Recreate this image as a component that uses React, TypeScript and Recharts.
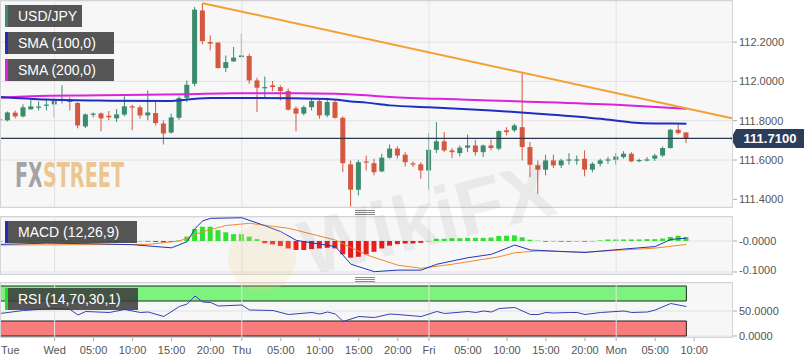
import React from 'react'
import {
  ComposedChart, Bar, Line, XAxis, YAxis, CartesianGrid,
  ReferenceLine, ReferenceArea, Cell,
} from 'recharts'

const FONT = '"Liberation Sans", Arial, sans-serif'
const UP = '#3b8b6c'
const DOWN = '#d4573f'
const GRID = '#e2e2e4'
const PLOT_BG = '#f7f7f8'

// hourly candles, Tue 17:00 .. Mon 09:00
const OPEN = [111.803, 111.802, 111.841, 111.822, 111.858, 111.868, 111.878, 111.883, 111.909, 111.908,
  111.890, 111.771, 111.835, 111.837, 111.825, 111.812, 111.831, 111.873, 111.868, 111.827,
  111.839, 111.786, 111.740, 111.815, 111.917, 111.988, 112.361, 112.200, 112.197, 112.068,
  112.102, 112.124, 112.129, 112.005, 111.968, 111.980, 111.971, 111.951, 111.863, 111.836,
  111.869, 111.900, 111.827, 111.895, 111.815, 111.578, 111.449, 111.593, 111.584, 111.542,
  111.612, 111.658, 111.627, 111.583, 111.578, 111.547, 111.652, 111.695, 111.649, 111.635,
  111.663, 111.674, 111.640, 111.674, 111.658, 111.751, 111.751, 111.767, 111.666, 111.573,
  111.551, 111.598, 111.573, 111.600, 111.600, 111.607, 111.551, 111.581, 111.600, 111.601,
  111.615, 111.632, 111.597, 111.600, 111.607, 111.623, 111.661, 111.754, 111.740]
const HIGH = [111.827, 111.847, 111.852, 111.883, 111.908, 111.898, 111.908, 111.919, 111.980, 111.919,
  111.895, 111.837, 111.842, 111.842, 111.849, 111.859, 111.924, 111.881, 111.878, 111.954,
  111.903, 111.802, 111.836, 111.924, 112.005, 112.378, 112.398, 112.234, 112.200, 112.132,
  112.175, 112.243, 112.141, 112.019, 112.025, 112.002, 111.980, 111.964, 111.873, 111.878,
  111.912, 111.907, 111.907, 111.907, 111.822, 111.598, 111.601, 111.623, 111.607, 111.632,
  111.679, 111.669, 111.640, 111.593, 111.589, 111.737, 111.793, 111.742, 111.661, 111.674,
  111.730, 111.703, 111.679, 111.705, 111.751, 111.767, 111.785, 112.042, 111.691, 111.598,
  111.627, 111.627, 111.607, 111.635, 111.623, 111.649, 111.589, 111.607, 111.615, 111.635,
  111.645, 111.640, 111.607, 111.615, 111.632, 111.669, 111.759, 111.781, 111.742]
const LOW = [111.791, 111.797, 111.812, 111.817, 111.857, 111.852, 111.852, 111.817, 111.888, 111.852,
  111.761, 111.763, 111.817, 111.746, 111.802, 111.793, 111.822, 111.751, 111.810, 111.802,
  111.776, 111.679, 111.734, 111.805, 111.895, 111.975, 112.188, 112.158, 112.065, 112.047,
  112.098, 112.116, 111.988, 111.844, 111.919, 111.951, 111.903, 111.852, 111.746, 111.827,
  111.852, 111.810, 111.818, 111.810, 111.538, 111.364, 111.420, 111.547, 111.522, 111.538,
  111.607, 111.607, 111.567, 111.564, 111.505, 111.449, 111.635, 111.640, 111.610, 111.618,
  111.640, 111.623, 111.615, 111.649, 111.649, 111.725, 111.742, 111.598, 111.513, 111.428,
  111.522, 111.559, 111.559, 111.576, 111.576, 111.517, 111.538, 111.567, 111.581, 111.576,
  111.607, 111.589, 111.589, 111.593, 111.595, 111.615, 111.658, 111.729, 111.686]
const CLOSE = [111.808, 111.842, 111.822, 111.868, 111.873, 111.872, 111.882, 111.903, 111.911, 111.895,
  111.776, 111.832, 111.836, 111.812, 111.817, 111.832, 111.873, 111.868, 111.827, 111.842,
  111.788, 111.735, 111.817, 111.915, 111.983, 112.365, 112.205, 112.192, 112.068, 112.098,
  112.121, 112.132, 112.005, 111.968, 111.971, 111.971, 111.951, 111.856, 111.836, 111.869,
  111.900, 111.827, 111.895, 111.815, 111.584, 111.449, 111.589, 111.588, 111.538, 111.612,
  111.658, 111.623, 111.589, 111.580, 111.547, 111.652, 111.695, 111.649, 111.640, 111.663,
  111.674, 111.640, 111.674, 111.661, 111.747, 111.742, 111.776, 111.666, 111.576, 111.551,
  111.598, 111.573, 111.598, 111.603, 111.603, 111.551, 111.581, 111.598, 111.603, 111.618,
  111.632, 111.593, 111.600, 111.603, 111.623, 111.661, 111.754, 111.737, 111.710]

const LAST = 111.71

// [candle index, value]
const SMA100 = [[0, 111.921], [6, 111.908], [14, 111.902], [22, 111.9], [23, 111.903], [24, 111.908],
  [27, 111.915], [33, 111.916], [42, 111.911], [45, 111.898], [47, 111.892], [50, 111.878],
  [55, 111.869], [63, 111.852], [69, 111.836], [77, 111.81], [81, 111.791], [84, 111.786], [88, 111.785]]
const SMA200 = [[0, 111.917], [4, 111.925], [13, 111.929], [24, 111.935], [30, 111.94], [38, 111.94],
  [43, 111.937], [47, 111.929], [50, 111.921], [59, 111.908], [67, 111.898], [79, 111.881], [88, 111.861]]
const TREND = [[26, 112.398], [93.85, 111.812]]

const MACD_HIST = [-0.002, -0.002, -0.001, 0.001, 0.002, 0.002, 0.002, 0.002, 0.002, 0.002,
  0.001, -0.001, -0.001, -0.002, -0.002, -0.002, -0.001, -0.001, -0.001, -0.002,
  -0.003, -0.004, -0.003, 0.002, 0.014, 0.039, 0.046, 0.046, 0.035, 0.028,
  0.022, 0.022, 0.014, 0.006, -0.007, -0.011, -0.016, -0.024, -0.029, -0.029,
  -0.026, -0.024, -0.022, -0.024, -0.043, -0.054, -0.051, -0.043, -0.035, -0.024,
  -0.015, -0.01, -0.008, -0.008, -0.006, -0.001, 0.007, 0.007, 0.009, 0.009,
  0.01, 0.01, 0.01, 0.011, 0.016, 0.017, 0.018, 0.012, 0.004, 0.001,
  -0.002, -0.001, -0.002, -0.002, -0.001, -0.002, -0.001, 0.002, 0.005, 0.005,
  0.005, 0.005, 0.005, 0.006, 0.006, 0.008, 0.013, 0.017, 0.013]
const MACD_LINE = [[0, -0.011], [6, -0.007], [12, -0.009], [17, -0.012], [20, -0.018], [22, -0.022],
  [24, -0.002], [25, 0.04], [26, 0.065], [27, 0.073], [31, 0.075], [34, 0.049], [36, 0.03],
  [38, 0.002], [43, -0.018], [45, -0.075], [48, -0.099], [51, -0.094], [54, -0.094], [56, -0.075],
  [60, -0.054], [63, -0.043], [66, -0.013], [68, -0.029], [73, -0.035], [75, -0.037], [80, -0.026],
  [84, -0.018], [86, 0.005], [88, 0.009]]
const MACD_SIGNAL = [[0, -0.013], [10, -0.012], [19, -0.011], [23, 0], [26, 0.03], [29, 0.05],
  [32, 0.057], [37, 0.041], [43, 0.003], [47, -0.045], [51, -0.078], [54, -0.088], [58, -0.075],
  [64, -0.051], [66, -0.038], [69, -0.032], [75, -0.036], [84, -0.023], [88, -0.011]]

const RSI = [[0, 45], [3, 51], [7, 55], [9, 53], [10, 42], [11, 49], [14, 47], [16, 53], [18, 47],
  [19, 48], [21, 39], [23, 59], [24, 64], [25, 80], [26, 68], [27, 67], [28, 60], [31, 62], [32, 52],
  [35, 51], [37, 43], [40, 47], [41, 44], [42, 48], [43, 44], [44, 29], [46, 39], [48, 37], [50, 44],
  [51, 43], [54, 39], [56, 49], [57, 45], [60, 49], [61, 47], [62, 50], [63, 48], [64, 55], [66, 57],
  [68, 43], [69, 43], [70, 47], [71, 46], [73, 47], [74, 47], [75, 43], [77, 47], [80, 50], [81, 47],
  [83, 48], [84, 52], [86, 65], [88, 59]]

const PRICE_TICKS = [111.4, 111.6, 111.8, 112.0, 112.2]
const DAY_STARTS = [7, 31, 55, 79]
const TICK_IDX = [0, 7, 12, 17, 22, 27, 31, 36, 41, 46, 51, 55, 60, 65, 70, 75, 79, 84, 89]
const TICK_LABELS = ['Tue', 'Wed', '05:00', '10:00', '15:00', '20:00', 'Thu', '05:00', '10:00', '15:00',
  '20:00', 'Fri', '05:00', '10:00', '15:00', '20:00', 'Mon', '05:00', '10:00']

const X_DOMAIN: [number, number] = [0, 93.85]

const candles = OPEN.map((o, i) => ({ i, o, h: HIGH[i], l: LOW[i], c: CLOSE[i], range: [LOW[i], HIGH[i]] }))
const hist = MACD_HIST.map((v, i) => ({ i, v }))
const pts = (a: number[][]) => a.map(([i, v]) => ({ i, v }))

const yTick = { fill: '#555', fontSize: 11, fontFamily: FONT }
const LOGO_FONT = '"DejaVu Sans Condensed", "DejaVu Sans", sans-serif'

function Candle(props: any) {
  const { x, y, width, height, payload } = props
  const cx = x + width / 2
  const top = Math.min(y, y + height)
  const bottom = Math.max(y, y + height)
  const k = (bottom - top) / (payload.h - payload.l)
  const yO = top + (payload.h - payload.o) * k
  const yC = top + (payload.h - payload.c) * k
  const color = payload.c >= payload.o ? UP : DOWN
  const bt = Math.min(yO, yC)
  const bh = Math.max(1.2, Math.abs(yO - yC))
  return (
    <g>
      <line x1={cx} x2={cx} y1={top} y2={bottom} stroke={color} strokeWidth={1} />
      <rect x={cx - 2.5} y={bt} width={5} height={bh} fill={color} />
    </g>
  )
}

function PriceTag(props: any) {
  const { viewBox } = props
  if (!viewBox) return null
  const right = viewBox.x + viewBox.width
  const y = viewBox.y
  return (
    <g>
      <polygon
        points={`${right - 1},${y} ${right + 4},${y - 9.5} ${right + 72},${y - 9.5} ${right + 72},${y + 9.5} ${right + 4},${y + 9.5}`}
        fill="#2c3d5b"
      />
      <text x={right + 38} y={y + 4.5} textAnchor="middle" fill="#fff" fontSize={13} fontWeight="bold" fontFamily={FONT}>
        {LAST.toFixed(4)}
      </text>
    </g>
  )
}

function TimeTick(props: any) {
  const { x, y, payload } = props
  const idx = TICK_IDX.indexOf(payload.value)
  const label = TICK_LABELS[idx]
  if (payload.value === 0) {
    return <text x={x + 1} y={y + 13} fill="#555" fontSize={11} fontFamily={FONT}>{label}</text>
  }
  return (
    <g>
      <line x1={x} x2={x} y1={y - 4} y2={y} stroke="#aaa" />
      <text x={x} y={y + 13} textAnchor="middle" fill="#555" fontSize={11} fontFamily={FONT}>{label}</text>
    </g>
  )
}

function Tag({ top, width, text, color }: { top: number; width: number; text: string; color: string }) {
  return (
    <div style={{
      position: 'absolute', left: 5, top, width, height: 22,
      background: 'rgba(58,58,58,0.86)', borderLeft: `3px solid ${color}`, boxSizing: 'border-box',
      color: '#fff', fontFamily: FONT, fontSize: 14, lineHeight: '22px', paddingLeft: 10,
      whiteSpace: 'nowrap',
    }}>
      {text}
    </div>
  )
}

function Frame({ top, height }: { top: number; height: number }) {
  return (
    <div style={{
      position: 'absolute', left: 0, top, width: 733, height,
      border: '1px solid #d4d4d6', boxSizing: 'border-box', pointerEvents: 'none',
    }} />
  )
}

function Handle({ top }: { top: number }) {
  return (
    <div style={{ position: 'absolute', left: 355, top, width: 20 }}>
      {[0, 2, 4].map(d => (
        <div key={d} style={{ position: 'absolute', top: d, left: 0, width: 20, height: 1, background: '#8a8a8a' }} />
      ))}
    </div>
  )
}

export default function App() {
  return (
    <div style={{ position: 'absolute', left: 0, top: 0, width: 808, height: 363, background: '#fff', overflow: 'hidden' }}>
      {/* price panel */}
      <div style={{ position: 'absolute', left: 0, top: 0 }}>
        <ComposedChart width={808} height={208} data={candles} margin={{ top: 1, right: 0, bottom: 1, left: 0 }}>
          <CartesianGrid vertical={false} stroke={GRID} fill={PLOT_BG} />
          <XAxis dataKey="i" type="number" domain={X_DOMAIN} allowDataOverflow hide />
          <YAxis
            orientation="right" type="number" domain={[111.361, 112.409]} allowDataOverflow
            ticks={PRICE_TICKS} tickFormatter={(v: number) => v.toFixed(4)} width={76}
            axisLine={false} tickSize={5} tickLine={{ stroke: '#aaa' }} tick={yTick}
          />
          {DAY_STARTS.map(d => <ReferenceLine key={d} x={d} stroke={GRID} />)}
          <ReferenceLine y={LAST} stroke="#2b3850" strokeWidth={1.2} label={<PriceTag />} />
          <Line data={pts(SMA200)} dataKey="v" type="monotone" stroke="#dc22dc" strokeWidth={2} dot={false} isAnimationActive={false} />
          <Line data={pts(SMA100)} dataKey="v" type="monotone" stroke="#1e2fc0" strokeWidth={2} dot={false} isAnimationActive={false} />
          <Bar dataKey="range" barSize={5} shape={(p: any) => <Candle {...p} />} isAnimationActive={false} />
          <Line data={pts(TREND)} dataKey="v" type="linear" stroke="#f2a033" strokeWidth={2} dot={false} isAnimationActive={false} />
        </ComposedChart>
      </div>

      {/* MACD panel */}
      <div style={{ position: 'absolute', left: 0, top: 216 }}>
        <ComposedChart width={808} height={60} data={hist} margin={{ top: 1, right: 0, bottom: 2, left: 0 }}>
          <CartesianGrid vertical={false} stroke={GRID} fill={PLOT_BG} />
          <XAxis dataKey="i" type="number" domain={X_DOMAIN} allowDataOverflow hide />
          <YAxis
            orientation="right" type="number" domain={[-0.1065, 0.0774]} allowDataOverflow
            ticks={[0, -0.1]} tickFormatter={(v: number) => (v === 0 ? '-0.0000' : v.toFixed(4))} width={76}
            axisLine={false} tickSize={5} tickLine={{ stroke: '#aaa' }} tick={yTick}
          />
          {DAY_STARTS.map(d => <ReferenceLine key={d} x={d} stroke={GRID} />)}
          <Bar dataKey="v" barSize={5} isAnimationActive={false}>
            {hist.map(d => <Cell key={d.i} fill={d.v >= 0 ? '#2fe22f' : '#ec1d1d'} />)}
          </Bar>
          <Line data={pts(MACD_SIGNAL)} dataKey="v" type="linear" stroke="#f28a2e" strokeWidth={1} dot={false} isAnimationActive={false} />
          <Line data={pts(MACD_LINE)} dataKey="v" type="linear" stroke="#2435b8" strokeWidth={1} dot={false} isAnimationActive={false} />
        </ComposedChart>
      </div>

      {/* RSI panel */}
      <div style={{ position: 'absolute', left: 0, top: 282 }}>
        <ComposedChart width={808} height={81} data={candles} margin={{ top: 1, right: 0, bottom: 0, left: 0 }}>
          <CartesianGrid vertical={false} stroke={GRID} fill={PLOT_BG} />
          <XAxis
            dataKey="i" type="number" domain={X_DOMAIN} allowDataOverflow ticks={TICK_IDX} interval={0}
            height={26} axisLine={false} tickLine={false} tickSize={4} tickMargin={0} tick={<TimeTick />}
          />
          <YAxis
            orientation="right" type="number" domain={[-2, 106]} allowDataOverflow
            ticks={[0, 50]} tickFormatter={(v: number) => v.toFixed(4)} width={76}
            axisLine={false} tickSize={5} tickLine={{ stroke: '#aaa' }} tick={yTick}
          />
          {DAY_STARTS.map(d => <ReferenceLine key={d} x={d} stroke={GRID} />)}
          <ReferenceArea x1={0} x2={88} y1={70} y2={100} fill="#7ef27e" fillOpacity={1} stroke="#1f2a1f" strokeWidth={1} />
          <ReferenceArea x1={0} x2={88} y1={0} y2={30} fill="#f87c7c" fillOpacity={1} stroke="#2a1f1f" strokeWidth={1} />
          <Line data={pts(RSI)} dataKey="v" type="linear" stroke="#3442b4" strokeWidth={1} dot={false} isAnimationActive={false} />
        </ComposedChart>
      </div>

      <Frame top={0} height={208} />
      <Frame top={216} height={59} />
      <Frame top={282} height={56} />
      <Handle top={210} />
      <Handle top={277} />

      {/* FXStreet logo and faint watermark */}
      <svg width={808} height={363} style={{ position: 'absolute', left: 0, top: 0, pointerEvents: 'none' }}>
        <defs>
          <linearGradient id="fxsLogo" gradientUnits="userSpaceOnUse" x1={15} x2={124} y1={0} y2={0}>
            <stop offset="0.24" stopColor="#a3a3a3" />
            <stop offset="0.24" stopColor="#ecc690" />
          </linearGradient>
        </defs>
        <text x={15} y={187} fontFamily={LOGO_FONT} fontWeight="bold" fontSize={34} fill="url(#fxsLogo)"
          textLength={109} lengthAdjust="spacingAndGlyphs">FXSTREET</text>
        <circle cx={262} cy={258} r={34} fill="#f2d28a" opacity={0.2} />
        <text x={430} y={245} textAnchor="middle" fontFamily={FONT} fontWeight="bold" fontSize={78}
          fill="#000" opacity={0.05} transform="rotate(-14 430 230)">WikiFX</text>
      </svg>

      <Tag top={5} width={77} text="USD/JPY" color={UP} />
      <Tag top={32} width={109} text="SMA (100,0)" color="#1e2fc0" />
      <Tag top={59} width={109} text="SMA (200,0)" color="#dc22dc" />
      <Tag top={221} width={132} text="MACD (12,26,9)" color="#1e2fc0" />
      <Tag top={288} width={133} text="RSI (14,70,30,1)" color="#22dd22" />
    </div>
  )
}
